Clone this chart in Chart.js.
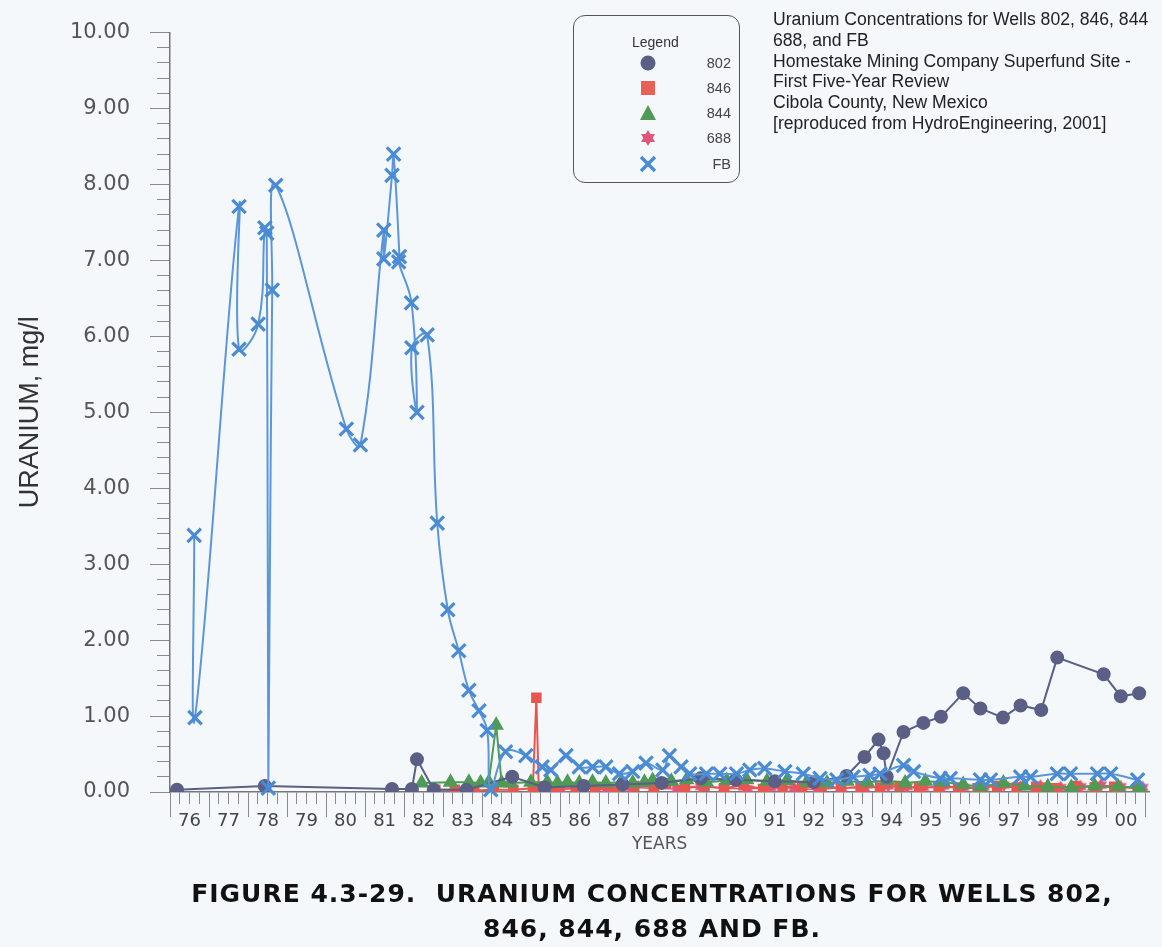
<!DOCTYPE html>
<html>
<head>
<meta charset="utf-8">
<title>Uranium concentrations, wells 802, 846, 844, 688 and FB</title>
<script src="https://cdn.jsdelivr.net/npm/chart.js@4.4.1/dist/chart.umd.min.js"></script>
<style>
  html, body { margin: 0; padding: 0; background: #f4f8fb; }
  #wrap { position: relative; width: 1162px; height: 947px; overflow: hidden; }
  #chart { position: absolute; left: 0; top: 0; }
  .legend {
    position: absolute; left: 573px; top: 15px; width: 165px; height: 166px;
    border: 1.5px solid #555; border-radius: 12px;
    font-family: "Liberation Sans", Arial, sans-serif; color: #333;
  }
  .legend .head { position: absolute; left: 58px; top: 18px; font-size: 14px; }
  .legend .row { position: absolute; left: 0; width: 165px; height: 20px; }
  .legend .row svg { position: absolute; left: 65px; top: 1px; }
  .legend .row span { position: absolute; right: 8px; top: 2px; font-size: 14.5px; color: #444; }
  .note {
    position: absolute; left: 773px; top: 9px;
    font-family: "Liberation Sans", Arial, sans-serif; font-size: 17.6px;
    line-height: 20.8px; color: #222; white-space: nowrap;
  }
  .caption {
    position: absolute; left: 152px; width: 1000px; top: 876px;
    font-family: "DejaVu Sans", Verdana, sans-serif; font-weight: bold;
    font-size: 25px; letter-spacing: 1px; line-height: 35px; color: #111; text-align: center;
  }
</style>
</head>
<body>
<div id="wrap">
  <canvas id="chart" width="1162" height="880"></canvas>

  <div class="legend">
    <div class="head">Legend</div>
    <div class="row" style="top:37px">
      <svg width="18" height="18"><circle cx="9" cy="9" r="7.5" fill="#5b5f86"/></svg><span>802</span>
    </div>
    <div class="row" style="top:62px">
      <svg width="18" height="18"><rect x="2" y="2" width="14" height="14" fill="#e8605a"/></svg><span>846</span>
    </div>
    <div class="row" style="top:87px">
      <svg width="18" height="18"><polygon points="9,1 17,16 1,16" fill="#4f9a55"/></svg><span>844</span>
    </div>
    <div class="row" style="top:112px">
      <svg width="18" height="18"><polygon points="9,1 16,13 2,13" fill="#e0557a"/><polygon points="9,17 16,5 2,5" fill="#e0557a"/></svg><span>688</span>
    </div>
    <div class="row" style="top:138px">
      <svg width="18" height="18"><path d="M2,2 L16,16 M16,2 L2,16" stroke="#4a8bd4" stroke-width="3.5"/></svg><span>FB</span>
    </div>
  </div>

  <div class="note">
    Uranium Concentrations for Wells 802, 846, 844<br>
    688, and FB<br>
    Homestake Mining Company Superfund Site -<br>
    First Five-Year Review<br>
    Cibola County, New Mexico<br>
    [reproduced from HydroEngineering, 2001]
  </div>

  <div class="caption">
    FIGURE 4.3-29.&nbsp; URANIUM CONCENTRATIONS FOR WELLS 802,<br>
    846, 844, 688 AND FB.
  </div>
</div>

<script>
  // sampling dates in decimal years (76 = 1976, 100 = 2000), values in mg/l
  var fbYears = [
    76.62, 76.64, 77.77, 77.77, 78.26, 78.43, 78.48, 78.52, 78.62, 78.71,
    80.52, 80.88, 81.48, 81.48, 81.69, 81.73, 81.88, 81.86, 82.19, 82.33,
    82.20, 82.59, 82.85, 83.12, 83.40, 83.66, 83.92, 84.13, 84.22, 84.60,
    85.12, 85.54, 85.76, 86.15, 86.49, 86.83, 87.17, 87.52, 87.86, 88.20,
    88.63, 88.80, 89.10, 89.32, 89.75, 90.09, 90.52, 90.86, 91.24, 91.76,
    92.23, 92.66, 93.09, 93.51, 93.94, 94.20, 94.80, 95.06, 95.74, 96.00,
    96.77, 97.03, 97.80, 98.06, 98.74, 99.08, 99.77, 100.11, 100.80
  ];
  var fbValues = [
    3.38, 0.98, 7.71, 5.83, 6.16, 7.43, 7.36, 0.05, 6.61, 7.99,
    4.78, 4.57, 7.40, 7.02, 8.12, 8.40, 7.05, 6.98, 6.44, 5.00,
    5.85, 6.02, 3.54, 2.40, 1.86, 1.34, 1.07, 0.81, 0.03, 0.53,
    0.48, 0.33, 0.29, 0.48, 0.33, 0.33, 0.33, 0.24, 0.27, 0.38,
    0.29, 0.48, 0.33, 0.24, 0.24, 0.24, 0.24, 0.29, 0.31, 0.27,
    0.24, 0.18, 0.16, 0.20, 0.22, 0.24, 0.35, 0.27, 0.18, 0.18,
    0.16, 0.16, 0.20, 0.20, 0.24, 0.24, 0.24, 0.24, 0.16
  ];

  var w802Years = [
    76.18, 78.43, 81.69, 82.20, 82.33, 82.76, 83.60, 84.77, 85.60, 86.60,
    87.60, 88.60, 89.60, 90.50, 91.50, 92.50, 93.34, 93.80, 94.16, 94.29,
    94.37, 94.80, 95.31, 95.76, 96.33, 96.77, 97.35, 97.80, 98.33, 98.74,
    99.93, 100.37, 100.84
  ];
  var w802Values = [
    0.03, 0.08, 0.04, 0.04, 0.43, 0.03, 0.03, 0.20, 0.06, 0.08,
    0.10, 0.12, 0.18, 0.16, 0.14, 0.13, 0.21, 0.46, 0.69, 0.51,
    0.20, 0.79, 0.91, 0.99, 1.30, 1.10, 0.98, 1.14, 1.08, 1.77,
    1.55, 1.26, 1.30
  ];

  var w846Years = [
    82.80, 83.30, 83.80, 84.30, 84.80, 85.30, 85.39, 85.45, 85.90, 86.40,
    86.90, 87.40, 87.90, 88.40, 88.71, 89.20, 89.70, 90.20, 90.70, 91.20,
    91.70, 92.20, 92.70, 93.20, 93.70, 94.20, 94.70, 95.20, 95.70, 96.20,
    96.70, 97.20, 97.70, 98.20, 98.70, 99.20, 99.70, 100.20, 100.80
  ];
  var w846Values = [
    0.03, 0.03, 0.02, 0.03, 0.03, 0.05, 1.24, 0.06, 0.04, 0.05,
    0.06, 0.04, 0.08, 0.07, 0.12, 0.06, 0.08, 0.05, 0.09, 0.04,
    0.07, 0.06, 0.08, 0.05, 0.07, 0.06, 0.08, 0.05, 0.07, 0.06,
    0.05, 0.08, 0.06, 0.07, 0.05, 0.08, 0.06, 0.07, 0.05
  ];

  var w844Years = [
    82.45, 83.19, 83.66, 83.96, 84.17, 84.36, 84.50, 84.73, 85.25, 85.67,
    85.93, 86.19, 86.49, 86.83, 87.17, 87.56, 87.86, 88.16, 88.37, 88.85,
    89.24, 89.75, 90.27, 90.78, 91.30, 91.81, 92.32, 92.84, 93.35, 93.87,
    94.38, 94.84, 95.36, 95.82, 96.33, 96.77, 97.36, 97.90, 98.50, 99.10,
    99.70, 100.30, 100.85
  ];
  var w844Values = [
    0.12, 0.13, 0.13, 0.12, 0.13, 0.88, 0.12, 0.12, 0.13, 0.13,
    0.12, 0.13, 0.12, 0.13, 0.12, 0.13, 0.12, 0.13, 0.15, 0.14,
    0.16, 0.13, 0.15, 0.16, 0.14, 0.15, 0.13, 0.12, 0.14, 0.13,
    0.15, 0.12, 0.14, 0.13, 0.10, 0.07, 0.12, 0.08, 0.07, 0.06,
    0.08, 0.07, 0.06
  ];

  var w688Years = [
    86.00, 86.60, 87.20, 87.80, 88.40, 89.00, 89.60, 90.20, 90.80, 91.40,
    92.00, 92.60, 93.20, 93.80, 94.41, 94.89, 95.31, 95.83, 96.34, 96.86,
    97.37, 97.80, 98.31, 98.83, 99.34, 99.86, 100.37, 100.93
  ];
  var w688Values = [
    0.04, 0.05, 0.03, 0.06, 0.05, 0.04, 0.07, 0.05, 0.04, 0.06,
    0.05, 0.03, 0.06, 0.05, 0.08, 0.07, 0.06, 0.08, 0.06, 0.07,
    0.09, 0.07, 0.08, 0.06, 0.07, 0.09, 0.07, 0.06
  ];

  var yearMin = 76, yearMax = 101.1;
  var valueMin = 0, valueMax = 10;

  var tickFont = { family: '"DejaVu Sans", Verdana, sans-serif' };

  function points(xs, ys) {
    return xs.map(function (x, i) {
      return { x: x, y: ys[i] };
    });
  }

  function range(from, to, step) {
    var out = [];
    for (var i = 0; from + i * step <= to + 1e-9; i++) {
      out.push({ value: +(from + i * step).toFixed(3) });
    }
    return out;
  }

  // six-pointed star marker for well 688
  function starMarker(color, r) {
    var c = document.createElement('canvas');
    c.width = c.height = 2 * r + 2;
    var g = c.getContext('2d');
    var cx = r + 1, cy = r + 1;
    g.fillStyle = color;
    [-Math.PI / 2, Math.PI / 2].forEach(function (a0) {
      g.beginPath();
      for (var k = 0; k < 3; k++) {
        var a = a0 + (k * 2 * Math.PI) / 3;
        g[k ? 'lineTo' : 'moveTo'](cx + r * Math.cos(a), cy + r * Math.sin(a));
      }
      g.closePath();
      g.fill();
    });
    return c;
  }

  var colors = {
    w802: '#5b5f86',
    w846: '#e8564f',
    w844: '#4f9a55',
    w688: '#e0557a',
    fb: '#4a8bd4',
  };

  new Chart(document.getElementById('chart'), {
    type: 'line',
    data: {
      datasets: [
        {
          label: '802',
          data: points(w802Years, w802Values),
          borderColor: colors.w802,
          backgroundColor: colors.w802,
          borderWidth: 2,
          pointStyle: 'circle',
          pointRadius: 6,
          tension: 0,
          order: 1,
        },
        {
          label: '846',
          data: points(w846Years, w846Values),
          borderColor: colors.w846,
          backgroundColor: colors.w846,
          borderWidth: 2,
          pointStyle: 'rect',
          pointRadius: 6,
          tension: 0,
          order: 3,
        },
        {
          label: '844',
          data: points(w844Years, w844Values),
          borderColor: colors.w844,
          backgroundColor: colors.w844,
          borderWidth: 2,
          pointStyle: 'triangle',
          pointRadius: 7,
          tension: 0,
          order: 2,
        },
        {
          label: '688',
          data: points(w688Years, w688Values),
          borderColor: colors.w688,
          backgroundColor: colors.w688,
          borderWidth: 1.5,
          pointStyle: starMarker(colors.w688, 7),
          tension: 0,
          order: 4,
        },
        {
          label: 'FB',
          data: points(fbYears, fbValues),
          borderColor: '#5b96da',
          backgroundColor: colors.fb,
          borderWidth: 2,
          pointStyle: 'crossRot',
          pointRadius: 9.5,
          pointBorderWidth: 3.2,
          pointBorderColor: colors.fb,
          tension: 0.4,
          clip: false,
          order: 0,
        },
      ],
    },
    options: {
      responsive: false,
      animation: false,
      events: [],
      layout: { padding: { left: 0, top: 28, right: 12, bottom: 20 } },
      plugins: {
        legend: { display: false },
        tooltip: { enabled: false },
      },
      scales: {
        xMinor: {
          type: 'linear',
          position: 'bottom',
          weight: 0,
          min: yearMin,
          max: yearMax,
          afterBuildTicks: function (s) {
            s.ticks = range(76, 101, 0.25);
          },
          afterFit: function (s) {
            s.height = 12;
          },
          ticks: { display: false },
          grid: { drawOnChartArea: false, tickLength: 12, color: '#8a8a8a' },
          border: { color: '#777', width: 1.5 },
        },
        x: {
          type: 'linear',
          position: 'bottom',
          weight: 1,
          min: yearMin,
          max: yearMax,
          afterBuildTicks: function (s) {
            s.ticks = range(76, 101, 1);
          },
          afterFit: function (s) {
            s.height = 56;
          },
          ticks: {
            autoSkip: false,
            maxRotation: 0,
            labelOffset: 19.5,
            padding: -6,
            color: '#444',
            font: { family: tickFont.family, size: 18 },
            callback: function (v) {
              if (v > 100.5) return '';
              return String(Math.round(v) % 100).padStart(2, '0');
            },
          },
          grid: { drawOnChartArea: false, tickLength: 13, color: '#8a8a8a' },
          border: { display: false },
          title: {
            display: true,
            text: 'YEARS',
            color: '#555',
            font: { family: tickFont.family, size: 17 },
            padding: { top: 0, bottom: 5 },
          },
        },
        yMinor: {
          type: 'linear',
          position: 'left',
          weight: 0,
          min: valueMin,
          max: valueMax,
          afterBuildTicks: function (s) {
            s.ticks = range(0, 10, 0.2);
          },
          afterFit: function (s) {
            s.width = 13;
          },
          ticks: { display: false },
          grid: { drawOnChartArea: false, tickLength: 13, color: '#8a8a8a' },
          border: { color: '#777', width: 1.5 },
        },
        y: {
          type: 'linear',
          position: 'left',
          weight: 1,
          min: valueMin,
          max: valueMax,
          afterBuildTicks: function (s) {
            s.ticks = range(0, 10, 1);
          },
          afterFit: function (s) {
            s.width = 157;
          },
          ticks: {
            padding: 20,
            color: '#555',
            font: { family: tickFont.family, size: 21 },
            callback: function (v) {
              return v.toFixed(2);
            },
          },
          grid: { drawOnChartArea: false, tickLength: 7, color: '#8a8a8a' },
          border: { display: false },
          title: {
            display: true,
            text: 'URANIUM, mg/l',
            color: '#333',
            font: { family: '"Liberation Sans", Arial, sans-serif', size: 27 },
            padding: { top: 14, bottom: 0 },
          },
        },
      },
    },
  });
</script>
</body>
</html>
